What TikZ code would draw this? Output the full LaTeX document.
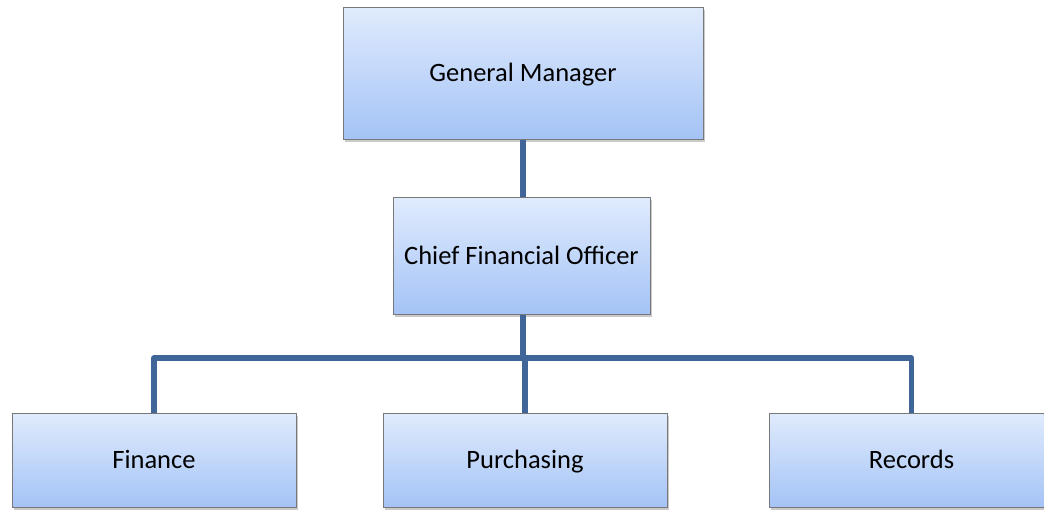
\documentclass[tikz,border=0pt]{standalone}
\usepackage{fontspec}
\setmainfont{Carlito}
\usetikzlibrary{shadows}
\definecolor{boxtop}{RGB}{224,235,253}
\definecolor{boxbot}{RGB}{164,195,246}
\definecolor{boxline}{RGB}{120,120,120}
\definecolor{conn}{RGB}{64,102,153}
\tikzset{
  orgbox/.style={rectangle, draw=boxline, line width=1pt, top color=boxtop, bottom color=boxbot,
    font=\fontsize{26.5}{30}\selectfont, text=black, inner sep=0pt,
    text height=17pt, text depth=0pt,
    drop shadow={opacity=0.35, shadow xshift=1.5pt, shadow yshift=-2.5pt, fill=black!60}},
  link/.style={draw=conn, line width=5.5pt, line join=round}
}
\begin{document}
\begin{tikzpicture}[x=1pt,y=-1pt]
\useasboundingbox (0,0) rectangle (1044,509);
\node[orgbox, minimum width=360pt, minimum height=132pt] (gm) at (523,73) {General Manager};
\node[orgbox, minimum width=257pt, minimum height=117pt] (cfo) at (521.5,255.5) {Chief Financial Officer};
\node[orgbox, minimum width=284pt, minimum height=94pt] (fin) at (154,460) {Finance};
\node[orgbox, minimum width=284pt, minimum height=94pt] (pur) at (525,460) {Purchasing};
\node[orgbox, minimum width=284pt, minimum height=94pt] (rec) at (911.5,460) {Records};
\coordinate (bus) at (523,358);
\draw[link] (gm.south -| 523,0) -- (cfo.north -| 523,0);
\draw[link] (cfo.south -| bus) -- (bus);
\draw[link] (fin.north) -- (fin.north |- bus) -- (rec.north |- bus) -- (rec.north);
\draw[link] (bus -| pur.north) -- (pur.north);
\end{tikzpicture}
\end{document}
